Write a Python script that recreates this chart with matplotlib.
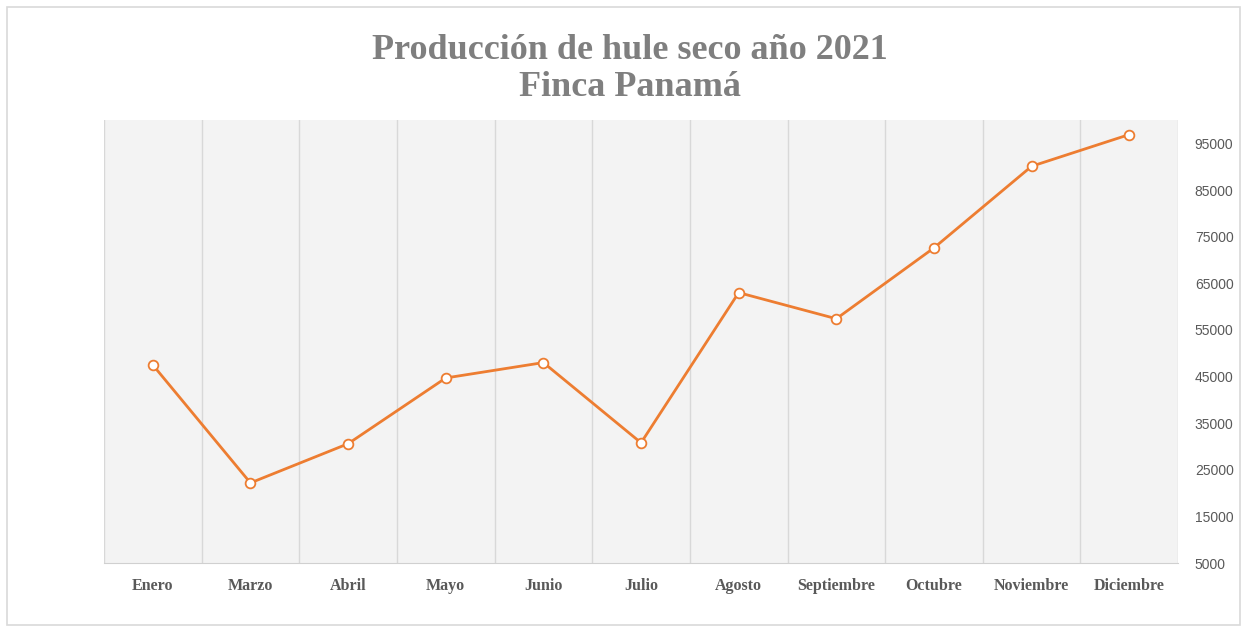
import matplotlib.pyplot as plt
import matplotlib.patches as mpatches
import numpy as np

# Monthly dry rubber production (kg)
months = ["Enero", "Marzo", "Abril", "Mayo", "Junio", "Julio", "Agosto",
          "Septiembre", "Octubre", "Noviembre", "Diciembre"]
production = [47500, 22200, 30600, 44700, 48000, 30800, 63000,
              57400, 72600, 90100, 96900]
y_ticks = [5000, 15000, 25000, 35000, 45000, 55000, 65000, 75000, 85000, 95000]

title = "Producción de hule seco año 2021\nFinca Panamá"

ORANGE = "#ED7D31"
GRAY_TXT = "#595959"

fig = plt.figure(figsize=(12.48, 6.32), dpi=100)
ax = fig.add_axes([0.0833, 0.109, 0.8607, 0.701])

# outer chart border
fig.patches.append(mpatches.Rectangle(
    (7 / 1248, 7 / 632), 1233 / 1248, 618 / 632,
    transform=fig.transFigure, fill=False, edgecolor="#d9d9d9", linewidth=1.2))

x = np.arange(len(months))
ax.set_facecolor("#f3f3f3")

# vertical separators between categories
for xb in np.arange(-0.5, len(months), 1.0):
    ax.axvline(xb, color="#d8d8d8", linewidth=1.0, zorder=1)

ax.plot(x, production, color=ORANGE, linewidth=2.0, marker="o",
        markersize=7, markerfacecolor="white", markeredgecolor=ORANGE,
        markeredgewidth=1.3, zorder=3)

ax.set_xlim(-0.5, len(months) - 0.5)
ax.set_ylim(5000, 100000)

ax.set_xticks(x)
ax.set_xticklabels(months, family="Liberation Serif", fontweight="bold",
                   fontsize=11.5, color=GRAY_TXT)
ax.yaxis.tick_right()
ax.set_yticks(y_ticks)
ax.set_yticklabels([str(v) for v in y_ticks], family="Liberation Sans",
                   fontsize=10, color=GRAY_TXT)
ax.tick_params(axis="both", length=0)
ax.tick_params(axis="x", pad=11)
ax.tick_params(axis="y", pad=12)

for side in ["top", "left", "right"]:
    ax.spines[side].set_visible(False)
ax.spines["bottom"].set_color("#d0d0d0")

fig.text(0.505, 0.891, title, ha="center", va="center",
         family="Liberation Serif", fontweight="bold", fontsize=26,
         color="#7f7f7f", linespacing=1.15)

fig.savefig("out.png", dpi=100, facecolor="white")
